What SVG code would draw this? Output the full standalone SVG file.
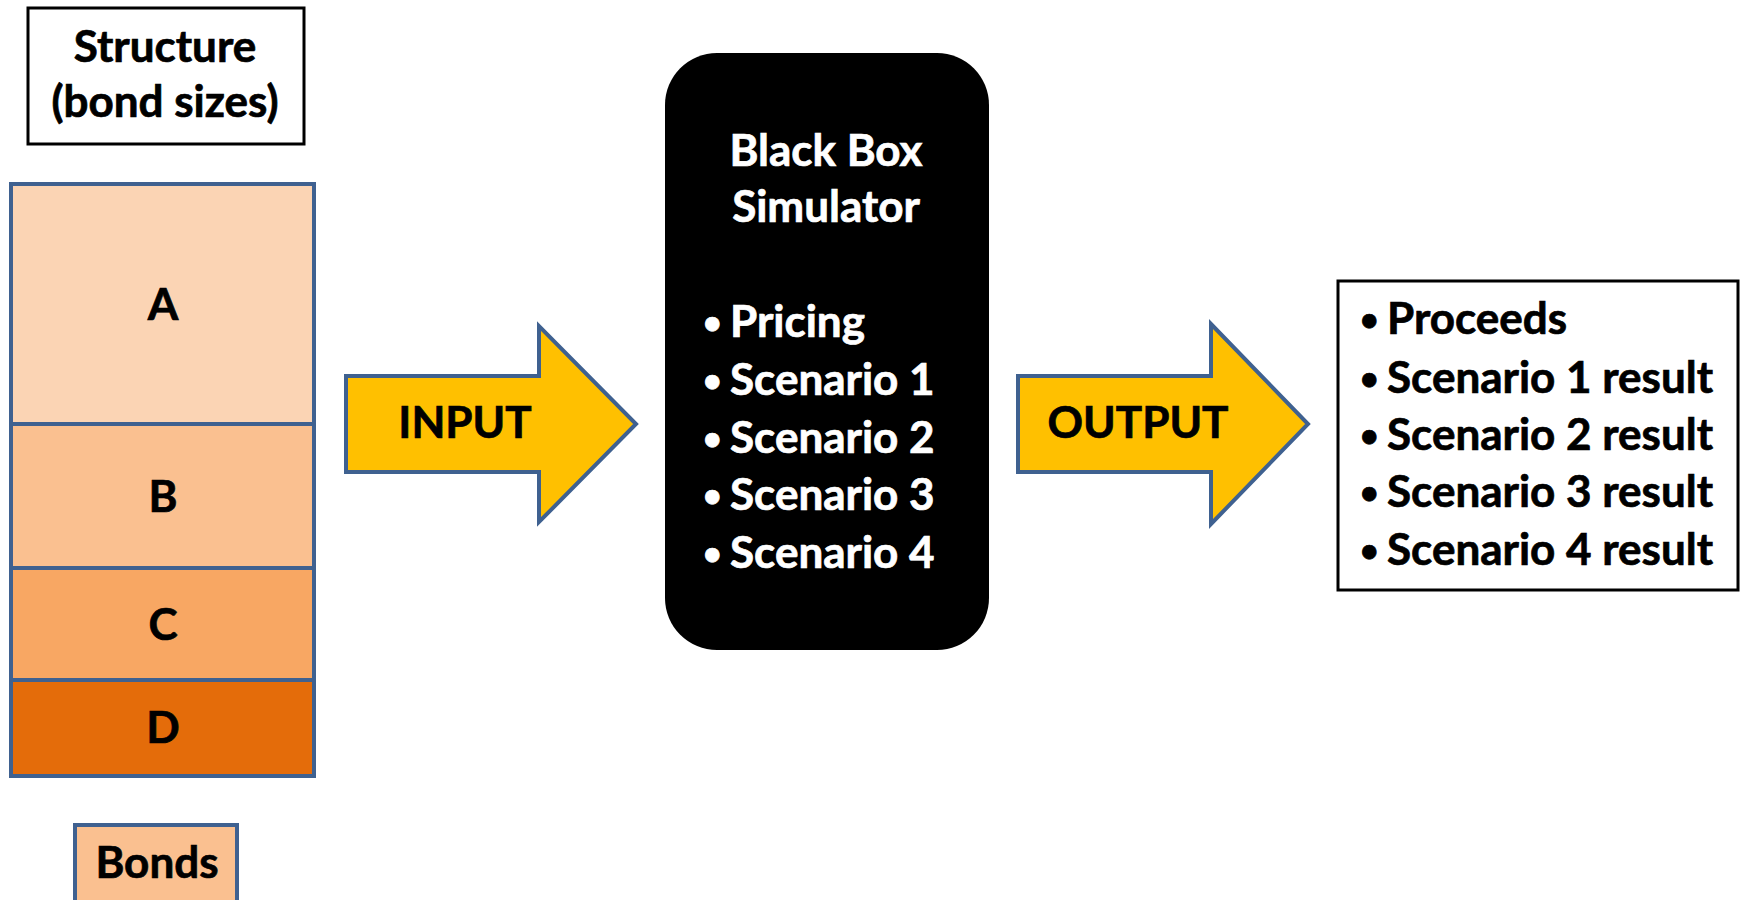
<svg xmlns="http://www.w3.org/2000/svg" width="1743" height="900" viewBox="0 0 1743 900">
  <style>
    text { font-family: Lato, "Open Sans", "Liberation Sans", sans-serif; font-weight: 700; font-size: 44px; fill: #000; stroke: #000; stroke-width: 0.7px; }
    .c { text-anchor: middle; }
    .w { fill: #fff; stroke: #fff; }
    .dot { font-size: 32px; }
    .tranche { stroke: #3f6190; stroke-width: 4; }
    .frame { fill: #fff; stroke: #000; stroke-width: 3; }
    .arrow { fill: #ffc000; stroke: #3f6190; stroke-width: 4; stroke-linejoin: miter; }
  </style>
  <rect width="1743" height="900" fill="#fff"/>

  <!-- title box over the bond stack -->
  <g id="structure-label">
    <rect class="frame" x="28" y="8" width="276" height="136"/>
    <text class="c" x="165" y="62">Structure</text>
    <text class="c" x="165" y="117">(bond sizes)</text>
  </g>

  <!-- bond tranches, senior at top -->
  <g id="tranche-a">
    <rect class="tranche" x="11" y="184" width="303" height="240" fill="#fbd4b4"/>
    <text class="c" x="163" y="320">A</text>
  </g>
  <g id="tranche-b">
    <rect class="tranche" x="11" y="424" width="303" height="144" fill="#fac090"/>
    <text class="c" x="163" y="512">B</text>
  </g>
  <g id="tranche-c">
    <rect class="tranche" x="11" y="568" width="303" height="112" fill="#f8a763"/>
    <text class="c" x="163" y="640">C</text>
  </g>
  <g id="tranche-d">
    <rect class="tranche" x="11" y="680" width="303" height="96" fill="#e46c0a"/>
    <text class="c" x="163" y="743">D</text>
  </g>

  <!-- legend swatch -->
  <g id="bonds-legend">
    <rect class="tranche" x="75" y="825" width="162" height="100" fill="#fac090"/>
    <text class="c" x="157" y="878">Bonds</text>
  </g>

  <!-- simulator -->
  <g id="simulator">
    <rect x="665" y="53" width="324" height="597" rx="52" ry="52" fill="#000"/>
    <text class="c w" x="826" y="166">Black Box</text>
    <text class="c w" x="826" y="222">Simulator</text>
    <text class="w" y="337"><tspan class="dot" x="703" dy="-3">•</tspan><tspan x="730" dy="3">Pricing</tspan></text>
    <text class="w" y="395"><tspan class="dot" x="703" dy="-3">•</tspan><tspan x="730" dy="3">Scenario 1</tspan></text>
    <text class="w" y="453"><tspan class="dot" x="703" dy="-3">•</tspan><tspan x="730" dy="3">Scenario 2</tspan></text>
    <text class="w" y="510"><tspan class="dot" x="703" dy="-3">•</tspan><tspan x="730" dy="3">Scenario 3</tspan></text>
    <text class="w" y="568"><tspan class="dot" x="703" dy="-3">•</tspan><tspan x="730" dy="3">Scenario 4</tspan></text>
  </g>

  <!-- results -->
  <g id="results">
    <rect class="frame" x="1338" y="281" width="400" height="309"/>
    <text y="334"><tspan class="dot" x="1360" dy="-3">•</tspan><tspan x="1387" dy="3">Proceeds</tspan></text>
    <text y="393"><tspan class="dot" x="1360" dy="-3">•</tspan><tspan x="1387" dy="3">Scenario 1 result</tspan></text>
    <text y="450"><tspan class="dot" x="1360" dy="-3">•</tspan><tspan x="1387" dy="3">Scenario 2 result</tspan></text>
    <text y="507"><tspan class="dot" x="1360" dy="-3">•</tspan><tspan x="1387" dy="3">Scenario 3 result</tspan></text>
    <text y="565"><tspan class="dot" x="1360" dy="-3">•</tspan><tspan x="1387" dy="3">Scenario 4 result</tspan></text>
  </g>

  <!-- block arrows -->
  <g id="connectors">
    <g id="input-arrow">
      <polygon class="arrow" points="346,376 539,376 539,326 636,424 539,522 539,472 346,472"/>
      <text class="c" x="465" y="438">INPUT</text>
    </g>
    <g id="output-arrow">
      <polygon class="arrow" points="1018,376 1211,376 1211,324 1308,424 1211,524 1211,472 1018,472"/>
      <text class="c" x="1138" y="438">OUTPUT</text>
    </g>
  </g>
</svg>
